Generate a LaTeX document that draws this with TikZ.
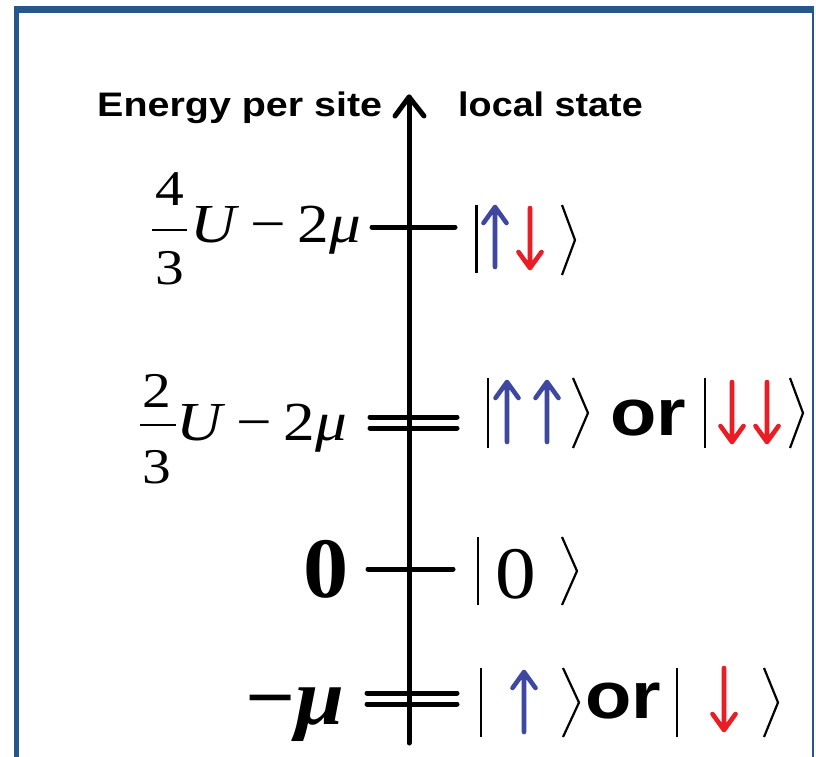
\documentclass[tikz,border=0pt]{standalone}
\usepackage{fontspec}
\setmainfont{Liberation Serif}
\newfontfamily\arialfam{Liberation Sans}
\definecolor{framecol}{RGB}{38,86,138}
\definecolor{spinblue}{RGB}{62,72,160}
\definecolor{spinred}{RGB}{234,28,36}
\tikzset{
  frameline/.style={draw=framecol},
  axisline/.style={line width=5pt,line cap=round,line join=round},
  tickline/.style={line width=5pt,line cap=round},
  fracbar/.style={line width=2.8pt},
  ketline/.style={line width=2.2pt},
  spin/.style={line width=4.6pt,line cap=round,line join=round},
  headtext/.style={font=\arialfam\bfseries\fontsize{34}{40}\selectfont,inner sep=0pt,anchor=base west},
  digit/.style={font=\fontsize{50}{56}\selectfont,inner sep=0pt,anchor=base,xscale=1.15},
  mathlbl/.style={font=\fontsize{55}{60}\selectfont,inner sep=0pt,anchor=base west,xscale=1.15},
  ortext/.style={font=\arialfam\bfseries\fontsize{66}{70}\selectfont,inner sep=0pt,anchor=base west,xscale=1.15},
}
\newcommand\spinup[4]{\draw[spin,#4] (#1,#3) -- (#1,#2) (#1-11.5,#2+16) -- (#1,#2) -- (#1+11.5,#2+16);}
\newcommand\spindown[4]{\draw[spin,#4] (#1,#2) -- (#1,#3) (#1-11.5,#3-16) -- (#1,#3) -- (#1+11.5,#3-16);}
\newcommand\ketbar[3]{\draw[ketline] (#1,#2) -- (#1,#3);}
\newcommand\ketang[4]{\draw[ketline] (#1,#3) -- (#2,{(#3+#4)/2}) -- (#1,#4);}
\begin{document}
\begin{tikzpicture}[x=1pt,y=-1pt]
\useasboundingbox (0,0) rectangle (816,756);
\fill[white] (0,0) rectangle (816,756);
% frame
\draw[frameline,line width=5.5pt] (16.5,760) -- (16.5,9.5);
\draw[frameline,line width=6.5pt] (13.75,9.5) -- (814,9.5);
\draw[frameline,line width=2.5pt] (813,9) -- (813,760);
% axis
\coordinate (axbot) at (409,743);
\coordinate (axtop) at (409,97);
\coordinate (axl) at (395,116);
\coordinate (axr) at (424,116);
\draw[axisline] (axbot) -- (axtop);
\draw[axisline] (axl) -- (axtop) -- (axr);
% headings
\node[headtext,xscale=1.16] (ylab) at (97,116) {Energy per site};
\node[headtext,xscale=1.11] (slab) at (458,116) {local state};
% ticks
\coordinate (t1a) at (372,227); \coordinate (t1b) at (455,227);
\draw[tickline] (t1a) -- (t1b);
\coordinate (t2a) at (370,417); \coordinate (t2b) at (457,417);
\coordinate (t2c) at (370,428); \coordinate (t2d) at (457,428);
\draw[tickline] (t2a) -- (t2b) (t2c) -- (t2d);
\coordinate (t3a) at (368,569); \coordinate (t3b) at (453,569);
\draw[tickline] (t3a) -- (t3b);
\coordinate (t4a) at (367,693); \coordinate (t4b) at (457,693);
\coordinate (t4c) at (367,704); \coordinate (t4d) at (457,704);
\draw[tickline] (t4a) -- (t4b) (t4c) -- (t4d);
% energy labels
\node[digit] (e1num) at (170,205) {4};
\draw[fracbar] (152,230) -- (187,230);
\node[digit] (e1den) at (170,284) {3};
\node[mathlbl] (e1rest) at (190,242) {\textit{U}\hspace{0.18em}−\hspace{0.18em}2\textit{μ}};
\node[digit] (e2num) at (157,407) {2};
\draw[fracbar] (140,425) -- (176,425);
\node[digit] (e2den) at (157,483) {3};
\node[mathlbl] (e2rest) at (176,440) {\textit{U}\hspace{0.18em}−\hspace{0.18em}2\textit{μ}};
\node[font=\bfseries\fontsize{86}{90}\selectfont,inner sep=0pt,anchor=base east,xscale=1.05] (e3) at (349,597) {0};
\node[font=\bfseries\fontsize{80}{84}\selectfont,inner sep=0pt,anchor=base east,xscale=1.1] (e4) at (345,724) {−\textit{μ}};
% row 1 state
\ketbar{476.5}{205}{273}
\spinup{495}{207}{267}{spinblue}
\spindown{530}{208}{268}{spinred}
\ketang{562}{575}{205}{275}
% row 2 states
\ketbar{488}{378}{448}
\spinup{507}{382}{442}{spinblue}
\spinup{547}{382}{442}{spinblue}
\ketang{573}{588}{378}{448}
\node[ortext] (or2) at (610,435) {or};
\ketbar{705}{378}{448}
\spindown{732}{382}{442}{spinred}
\spindown{767}{382}{442}{spinred}
\ketang{790}{803}{378}{448}
% row 3 state
\ketbar{478}{537}{605}
\node[font=\fontsize{74}{78}\selectfont,inner sep=0pt,anchor=base west,xscale=1.1] (z3) at (495,598) {0};
\ketang{562}{577}{537}{605}
% row 4 states
\ketbar{481}{668}{737}
\spinup{524}{672}{732}{spinblue}
\ketang{563}{579}{668}{737}
\node[ortext] (or4) at (585,718) {or};
\ketbar{677}{668}{737}
\spindown{724}{668}{730}{spinred}
\ketang{764}{778}{668}{737}
\end{tikzpicture}
\end{document}
